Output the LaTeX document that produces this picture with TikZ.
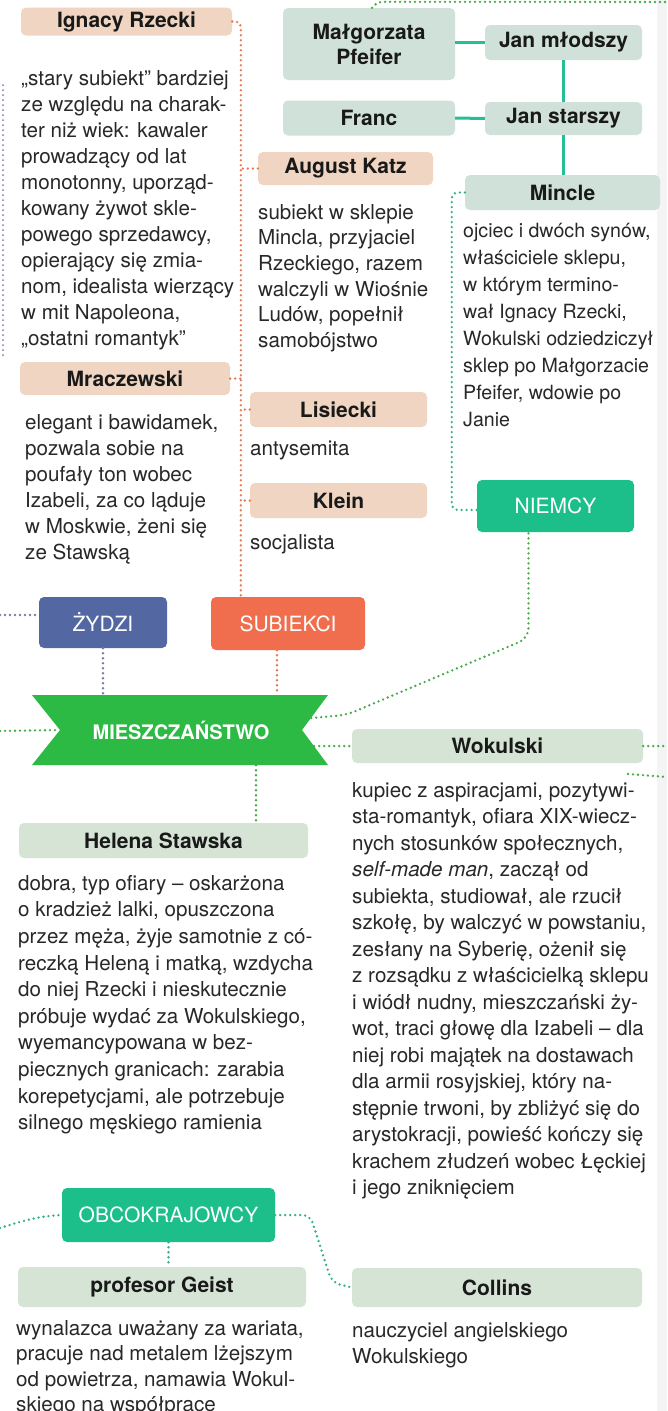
\documentclass[tikz,border=0pt]{standalone}
\usepackage{fontspec}
\setmainfont{TeX Gyre Heros}
\usetikzlibrary{calc}
\definecolor{peach}{RGB}{239,213,194}
\definecolor{ngray}{RGB}{207,225,217}
\definecolor{mgray}{RGB}{213,228,213}
\definecolor{zydzi}{RGB}{83,104,163}
\definecolor{subiekci}{RGB}{240,110,78}
\definecolor{niemcy}{RGB}{28,190,138}
\definecolor{bannerg}{RGB}{44,186,68}
\definecolor{tealline}{RGB}{38,190,150}
\definecolor{dotgreen}{RGB}{70,170,70}
\definecolor{dotteal}{RGB}{50,175,140}
\definecolor{dotorange}{RGB}{230,120,80}
\definecolor{dotblue}{RGB}{120,125,155}
\definecolor{bodytext}{RGB}{40,40,40}
\definecolor{hdrtext}{RGB}{25,25,25}
\definecolor{edgegray}{RGB}{244,244,244}
\begin{document}
\begin{tikzpicture}[x=1pt,y=-1pt,
  hdr/.style={rounded corners=5pt, inner sep=0pt, font=\fontsize{21}{25}\selectfont\bfseries, text=hdrtext},
  cat/.style={rounded corners=5pt, inner sep=0pt, font=\fontsize{21}{25}\selectfont, text=white},
  body/.style={anchor=north west, inner sep=0pt, align=left, font=\fontsize{20.6}{#1}\selectfont, text=bodytext},
  body/.default=26.3,
  dotline/.style={line width=2.6pt, line cap=round, dash pattern=on 0pt off 5pt},
  dO/.style={dotline, draw=dotorange},
  dG/.style={dotline, draw=dotgreen},
  dT/.style={dotline, draw=dotteal},
  dB/.style={dotline, draw=dotblue},
  solidT/.style={line width=3pt, draw=tealline}
]
\useasboundingbox (0,0) rectangle (667,1411);
\fill[white] (0,0) rectangle (667,1411);
\fill[edgegray] (657,0) rectangle (667,1411);

% ---------- header boxes ----------
\node[hdr, fill=peach, minimum width=211, minimum height=28] (rz) at (126.5,21.5) {Ignacy Rzecki};
\node[hdr, fill=ngray, minimum width=172, minimum height=72, align=center] (mal) at (369,44) {Małgorzata\\Pfeifer};
\node[hdr, fill=ngray, minimum width=157, minimum height=35] (jm) at (563.5,42.5) {Jan młodszy};
\node[hdr, fill=ngray, minimum width=172, minimum height=35] (fr) at (369,118) {Franc};
\node[hdr, fill=ngray, minimum width=157, minimum height=33] (js) at (563.5,118.5) {Jan starszy};
\node[hdr, fill=peach, minimum width=175, minimum height=33] (katz) at (345.5,168.5) {August Katz};
\node[hdr, fill=ngray, minimum width=195, minimum height=35] (min) at (562.5,192.5) {Mincle};
\node[hdr, fill=peach, minimum width=210, minimum height=33] (mra) at (125,378.5) {Mraczewski};
\node[hdr, fill=peach, minimum width=177, minimum height=35] (lis) at (338.5,409.5) {Lisiecki};
\node[hdr, fill=peach, minimum width=177, minimum height=35] (kl) at (338.5,500.5) {Klein};
\node[cat, fill=niemcy, minimum width=157, minimum height=52] (nie) at (555.5,506) {NIEMCY};
\node[cat, fill=zydzi, minimum width=128, minimum height=51] (zyd) at (103,622.5) {ŻYDZI};
\node[cat, fill=subiekci, minimum width=154, minimum height=53] (sub) at (288,623.5) {SUBIEKCI};
\fill[bannerg] (32,695) -- (328,695) -- (302,730) -- (328,765) -- (32,765) -- (60,730) -- cycle;
\node[inner sep=0pt, minimum width=242, minimum height=70, font=\fontsize{20}{24}\selectfont\bfseries, text=white] (mies) at (181,730) {MIESZCZAŃSTWO};
\node[hdr, fill=mgray, minimum width=291, minimum height=34] (wok) at (497.5,746) {Wokulski};
\node[hdr, fill=mgray, minimum width=289, minimum height=35] (hel) at (163.5,840.5) {Helena Stawska};
\node[cat, fill=niemcy, minimum width=213, minimum height=54] (obc) at (168.5,1215) {OBCOKRAJOWCY};
\node[hdr, fill=mgray, minimum width=288, minimum height=40] (gei) at (162,1287) {profesor Geist};
\node[hdr, fill=mgray, minimum width=290, minimum height=39] (col) at (497,1287.5) {Collins};

% ---------- body texts ----------
\node[body=26] (rzt) at (21,64) {\rule{0pt}{21pt}„stary subiekt” bardziej\\ze względu na charak-\\ter niż wiek: kawaler\\prowadzący od lat\\monotonny, uporząd-\\kowany żywot skle-\\powego sprzedawcy,\\opierający się zmia-\\nom, idealista wierzący\\w mit Napoleona,\\„ostatni romantyk”};
\node[body=25.6] (katzt) at (258,198) {\rule{0pt}{21pt}subiekt w sklepie\\Mincla, przyjaciel\\Rzeckiego, razem\\walczyli w Wiośnie\\Ludów, popełnił\\samobójstwo};
\node[body=27, font=\fontsize{19.6}{27}\selectfont] (mint) at (463,216) {\rule{0pt}{21pt}ojciec i dwóch synów,\\właściciele sklepu,\\w którym termino-\\wał Ignacy Rzecki,\\Wokulski odziedziczył\\sklep po Małgorzacie\\Pfeifer, wdowie po\\Janie};
\node[body=26] (mrat) at (25,408) {\rule{0pt}{21pt}elegant i bawidamek,\\pozwala sobie na\\poufały ton wobec\\Izabeli, za co ląduje\\w Moskwie, żeni się\\ze Stawską};
\node[body] (list) at (250,434) {\rule{0pt}{21pt}antysemita};
\node[body] (klt) at (250,528) {\rule{0pt}{21pt}socjalista};
\node[body=26.5] (wokt) at (352,776) {\rule{0pt}{21pt}kupiec z aspiracjami, pozytywi-\\sta-romantyk, ofiara XIX-wiecz-\\nych stosunków społecznych,\\\textit{self-made man}, zaczął od\\subiekta, studiował, ale rzucił\\szkołę, by walczyć w powstaniu,\\zesłany na Syberię, ożenił się\\z rozsądku z właścicielką sklepu\\i wiódł nudny, mieszczański ży-\\wot, traci głowę dla Izabeli – dla\\niej robi majątek na dostawach\\dla armii rosyjskiej, który na-\\stępnie trwoni, by zbliżyć się do\\arystokracji, powieść kończy się\\krachem złudzeń wobec Łęckiej\\i jego zniknięciem};
\node[body=26.6] (helt) at (18,869) {\rule{0pt}{21pt}dobra, typ ofiary – oskarżona\\o kradzież lalki, opuszczona\\przez męża, żyje samotnie z có-\\reczką Heleną i matką, wzdycha\\do niej Rzecki i nieskutecznie\\próbuje wydać za Wokulskiego,\\wyemancypowana w bez-\\piecznych granicach: zarabia\\korepetycjami, ale potrzebuje\\silnego męskiego ramienia};
\node[body=25.5] (geit) at (16,1314) {\rule{0pt}{21pt}wynalazca uważany za wariata,\\pracuje nad metalem lżejszym\\od powietrza, namawia Wokul-\\skiego na współpracę};
\node[body=26] (colt) at (352,1316) {\rule{0pt}{21pt}nauczyciel angielskiego\\Wokulskiego};

% ---------- solid family lines ----------
\draw[solidT] (jm.west -| mal.east) -- (jm.west);
\draw[solidT] (fr.east) -- (js.west);
\draw[solidT] (jm.south) -- (js.north);
\draw[solidT] (js.south) -- (js.south |- min.north);

% ---------- orange (subiekci) ----------
\coordinate (tr) at ($(sub.north west)+(30,0)$);
\draw[dO, rounded corners=5pt] (rz.east) -| (tr);
\draw[dO] (katz.west) -- (katz.west -| tr);
\draw[dO] (mra.east) -- (mra.east -| tr);
\draw[dO] (lis.west) -- (lis.west -| tr);
\draw[dO] (kl.west) -- (kl.west -| tr);
\coordinate (subb) at ($(sub.south)+(-11,0)$);
\draw[dO] (subb) -- (subb |- mies.north);

% ---------- blue-gray (zydzi) ----------
\coordinate (zl) at (0,615);
\draw[dB] (zl) -- (zl -| zyd.west);
\draw[dB] (zyd.south) -- (zyd.south |- mies.north);
\coordinate (lt) at (3,85);
\coordinate (lb) at (3,355);
\draw[dB, line width=2pt] (lt) -- (lb);

% ---------- green (mieszczanstwo) ----------
\coordinate (ml) at (0,731);
\draw[dG] (ml) -- (mies.west);
\coordinate (bu) at ($(mies.east)+(9,-12)$);
\draw[dG, rounded corners=10pt] (bu) -- ++(35,-3) -- ($(nie.south)+(-27,106)$) -- ($(nie.south)+(-27,0)$);
\coordinate (bl) at ($(mies.east)+(12,16)$);
\draw[dG] (bl) -- (wok.west);
\coordinate (hv) at ($(hel.north)+(92.5,0)$);
\draw[dG] (hv |- mies.south) -- (hv);
\coordinate (wr) at (667,746);
\draw[dG] (wok.east) -- (wr);
\coordinate (xa) at (628,774);
\coordinate (xb) at (667,777);
\draw[dG] (xa) -- (xb);
\coordinate (tp) at (667,2);
\draw[dG, rounded corners=4pt] ($(mal.north)+(3,0)$) -- ++(6,-6) -- (tp);

% ---------- teal (niemcy / obcokrajowcy) ----------
\draw[dT, rounded corners=6pt] (min.west) -- ++(-13,0) |- ($(nie.west)+(0,4)$);
\coordinate (ol) at (0,1228);
\draw[dT] (ol) .. controls (25,1220) and (40,1216) .. (obc.west);
\draw[dT, rounded corners=8pt] (obc.east) -- ++(35,0) -- ($(col.west)+(-20,-5)$) -- (col.west);
\draw[dT] (obc.south) -- (obc.south |- gei.north);
\end{tikzpicture}
\end{document}
